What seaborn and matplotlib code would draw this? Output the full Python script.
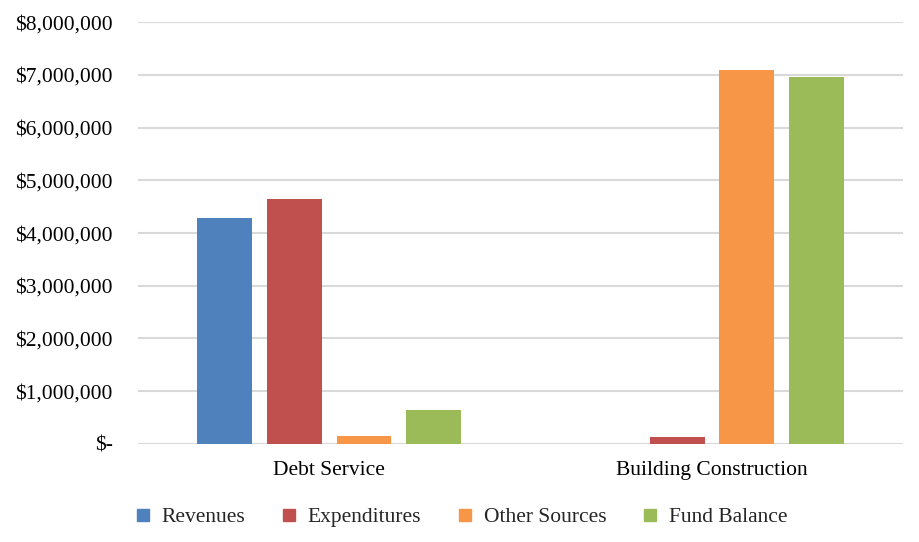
import matplotlib
matplotlib.use("Agg")
import matplotlib.pyplot as plt
from matplotlib.lines import Line2D
from matplotlib.ticker import FuncFormatter
import seaborn as sns
import pandas as pd

categories = ["Debt Service", "Building Construction"]
series = ["Revenues", "Expenditures", "Other Sources", "Fund Balance"]
revenues = [4290000, 0]
expenditures = [4640000, 130000]
other_sources = [150000, 7100000]
fund_balance = [640000, 6960000]
colors = ["#4F81BD", "#C0504D", "#F79646", "#9BBB59"]
yticks = [0, 1000000, 2000000, 3000000, 4000000, 5000000, 6000000, 7000000, 8000000]

rows = []
for s, vals in zip(series, [revenues, expenditures, other_sources, fund_balance]):
    for c, v in zip(categories, vals):
        rows.append({"Category": c, "Series": s, "Value": v})
df = pd.DataFrame(rows)

sns.set_theme(style="white")
plt.rcParams["font.family"] = ["Liberation Serif", "DejaVu Serif"]

FS = 15.5

fig = plt.figure(figsize=(9.19, 5.42), dpi=100)
ax = fig.add_axes([0.150, 0.181, 0.833, 0.778])

sns.barplot(data=df, x="Category", y="Value", hue="Series", order=categories,
            hue_order=series, palette=colors, width=0.727, gap=0.21,
            saturation=1, linewidth=0, ax=ax, legend=False, errorbar=None)

ax.set_ylim(0, 8000000)
ax.set_xlim(-0.5, 1.5)
ax.set_yticks(yticks)

def fmt(v, pos):
    if v == 0:
        return "$-"
    return "${:,.0f}".format(v)

ax.yaxis.set_major_formatter(FuncFormatter(fmt))
ax.grid(axis="y", color="#d9d9d9", linewidth=1.5)
ax.set_axisbelow(True)
for sp in ax.spines.values():
    sp.set_visible(False)
ax.set_xlabel("")
ax.set_ylabel("")
ax.tick_params(axis="y", labelsize=FS, pad=18, length=0, colors="black")
ax.tick_params(axis="x", labelsize=FS, pad=12, length=0, colors="black")

handles = [Line2D([0], [0], marker="s", linestyle="none", markersize=8,
                  markerfacecolor=c, markeredgecolor=c) for c in colors]
fig.legend(handles, series, loc="center", bbox_to_anchor=(0.502, 0.046), ncol=4,
           frameon=False, fontsize=FS, handlelength=0.7, handletextpad=0.5,
           columnspacing=1.7)

fig.savefig("out.png", dpi=100)
